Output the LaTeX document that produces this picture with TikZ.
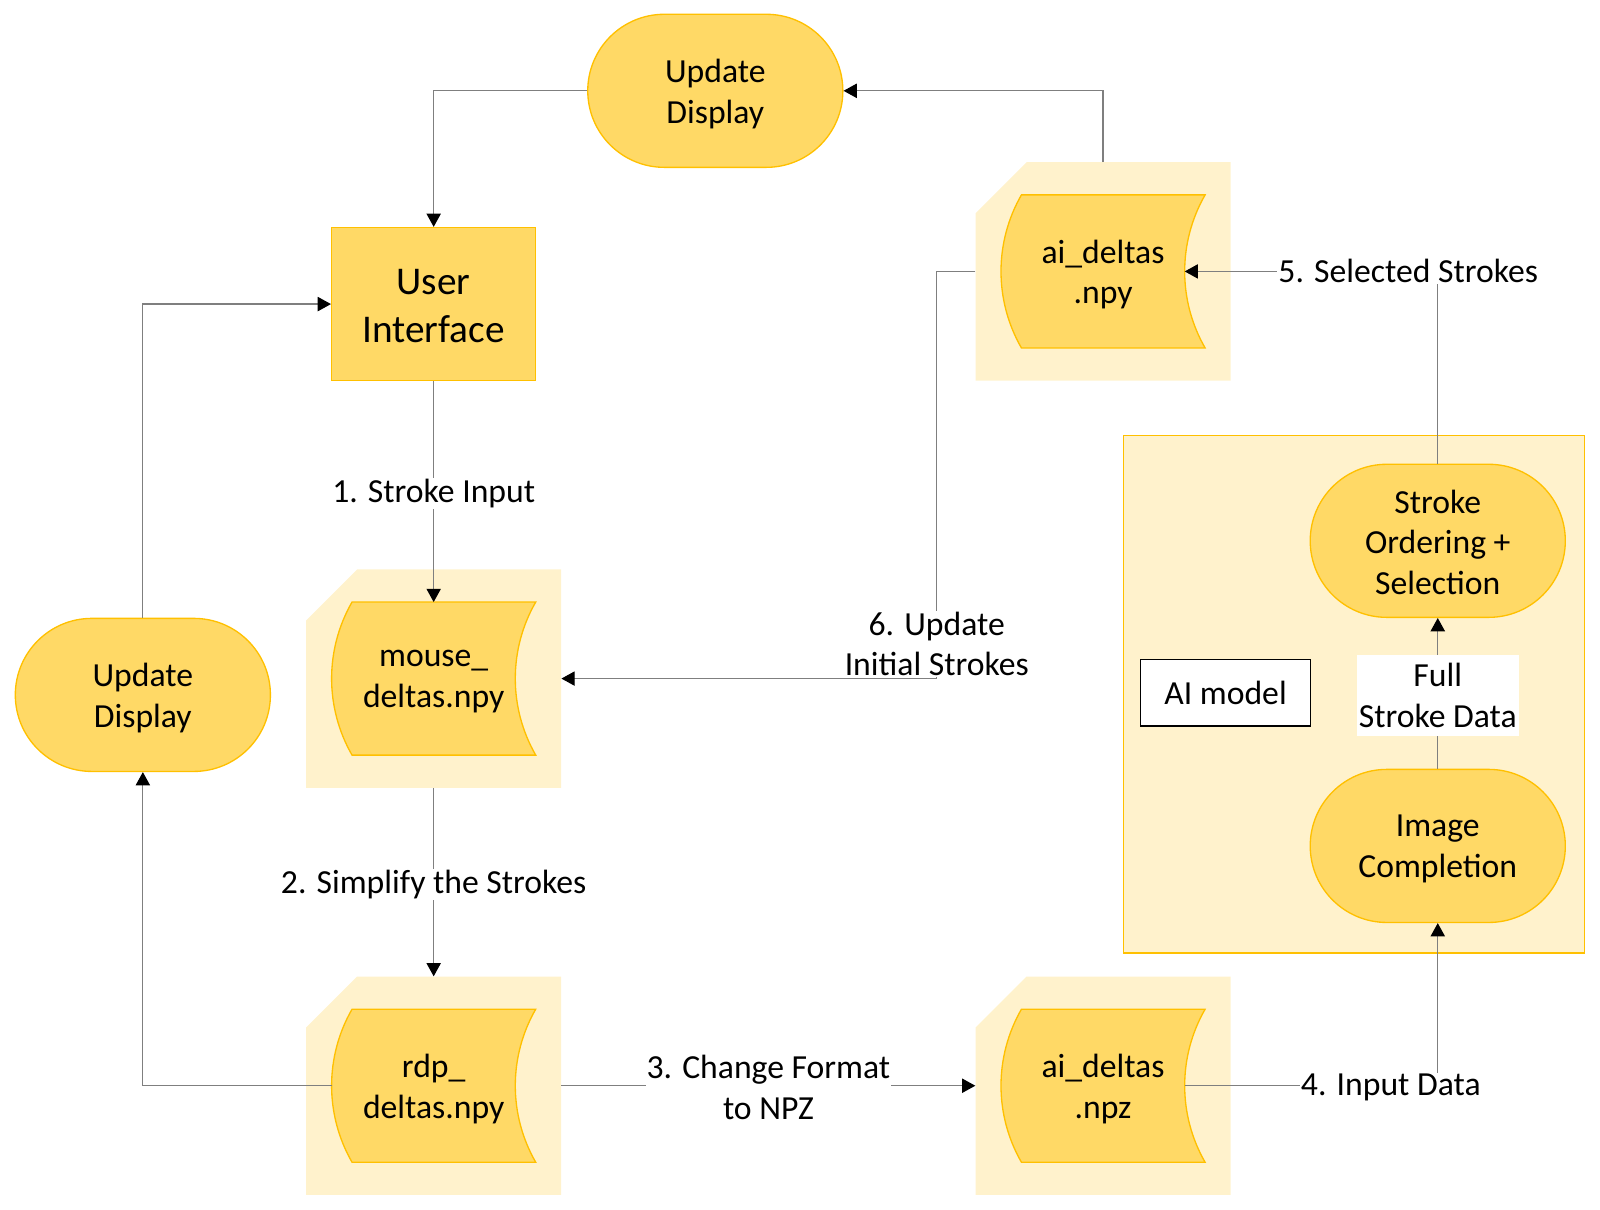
\documentclass[tikz,border=0pt]{standalone}
\usepackage{fontspec}
\setmainfont{Carlito}
\usetikzlibrary{arrows.meta}
\definecolor{gold}{HTML}{FFD966}
\definecolor{goldline}{HTML}{FFC000}
\definecolor{lightgold}{HTML}{FFF2CC}
\definecolor{connc}{HTML}{7F7F7F}
\newcommand{\mkstore}[4]{% name, cx, cy, text
  \fill[lightgold] (#2-125,#3-57) -- (#2-75,#3-107) -- (#2+125,#3-107) -- (#2+125,#3+107) -- (#2-125,#3+107) -- cycle;
  \draw[goldline, fill=gold, line width=1.3pt] (#2-80,#3-75) -- (#2+100,#3-75)
     .. controls (#2+73.3,#3-28.6) and (#2+73.3,#3+28.6) .. (#2+100,#3+75) -- (#2-80,#3+75)
     .. controls (#2-106.7,#3+28.6) and (#2-106.7,#3-28.6) .. (#2-80,#3-75) -- cycle;
  \node[minimum width=250pt, minimum height=214pt, inner sep=0pt] (#1) at (#2,#3) {};
  \node[txt] (#1-text) at (#2,#3+3) {#4};
  \coordinate (#1-top) at (#2,#3-75);
  \coordinate (#1-left) at (#2-100,#3);
  \coordinate (#1-right) at (#2+80,#3);
}
\begin{document}
\begin{tikzpicture}[x=1pt,y=-1pt,
  txt/.style={font=\fontsize{33}{40}\selectfont, align=center, text=black},
  terminal/.style={draw=goldline, fill=gold, line width=1.3pt, rounded corners=75pt, minimum width=250pt, minimum height=150pt, inner sep=0pt},
  procbox/.style={draw=goldline, fill=gold, line width=1.3pt, minimum width=200pt, minimum height=150pt, inner sep=0pt},
  bigtxt/.style={align=center, font=\fontsize{38.5}{47}\selectfont, text=black},
  connline/.style={draw=connc, line width=1.2pt},
  arr/.style={connline, -{Triangle[length=13pt,width=14pt,color=black]}},
  lbl/.style={txt, fill=white, inner sep=1pt},
  lbllow/.style={lbl, yshift=-2pt}]
\useasboundingbox (0,0) rectangle (1568,1185);

% AI model container
\node[draw=goldline, fill=lightgold, line width=1.3pt, minimum width=452pt, minimum height=507pt, inner sep=0pt] (aim) at (1327,680.5) {};
\node[txt, draw=black, fill=white, line width=1.3pt, minimum width=167pt, minimum height=65pt, inner sep=0pt] (aib) at (1201,679) {AI model};

% main shapes
\node[terminal] (ud1) at (701,89) {};
\node[txt] (ud1-text) at (701,92) {Update\\Display};
\node[terminal] (ud2) at (140,681) {};
\node[txt] (ud2-text) at (140,684) {Update\\Display};
\node[procbox] (ui) at (425,298) {};
\node[bigtxt] (ui-text) at (425,299.5) {User\\Interface};
\node[terminal] (so) at (1409,530) {};
\node[txt] (so-text) at (1409,531.5) {Stroke\\Ordering +\\Selection};
\node[terminal] (ic) at (1409,829) {};
\node[txt] (ic-text) at (1409,832) {Image\\Completion};

\mkstore{npy}{1081}{266}{ai\_deltas\\.npy}
\mkstore{md}{425}{665}{mouse\_\\deltas.npy}
\mkstore{rdp}{425}{1064}{rdp\_\\deltas.npy}
\mkstore{npz}{1081}{1064}{ai\_deltas\\.npz}

\coordinate (c6) at (918,665);

% connectors
\draw[arr] (ud1.west) -| (ui.north);
\draw[arr] (npy.north) |- (ud1.east);
\draw[arr] (ud2.north) |- (ui.west);
\draw[arr] (rdp-left) -| (ud2.south);
\draw[arr] (ui.south) -- node[lbllow] (l1) {1. Stroke Input} (md-top);
\draw[arr] (md.south) -- node[lbllow] (l2) {2. Simplify the Strokes} (rdp.north);
\draw[arr] (rdp.east) -- node[lbllow] (l3) {3. Change Format\\to NPZ} (npz.west);
\draw[arr] (npz-right) -| (ic.south);
\draw[arr] (ic.north) -- node[lbllow, minimum width=159pt, minimum height=80pt] (lf) {Full\\Stroke Data} (so.south);
\draw[arr] (so.north) |- (npy-right);
\draw[arr] (npy.west) -| (c6) -- (md.east);

% labels on corners
\node[lbllow] (l4) at (1363,1064) {4. Input Data};
\node[lbl] (l5) at (1380,266) {5. Selected Strokes};
\node[lbl] (l6) at (918,631) {6. Update\\Initial Strokes};
\end{tikzpicture}
\end{document}
